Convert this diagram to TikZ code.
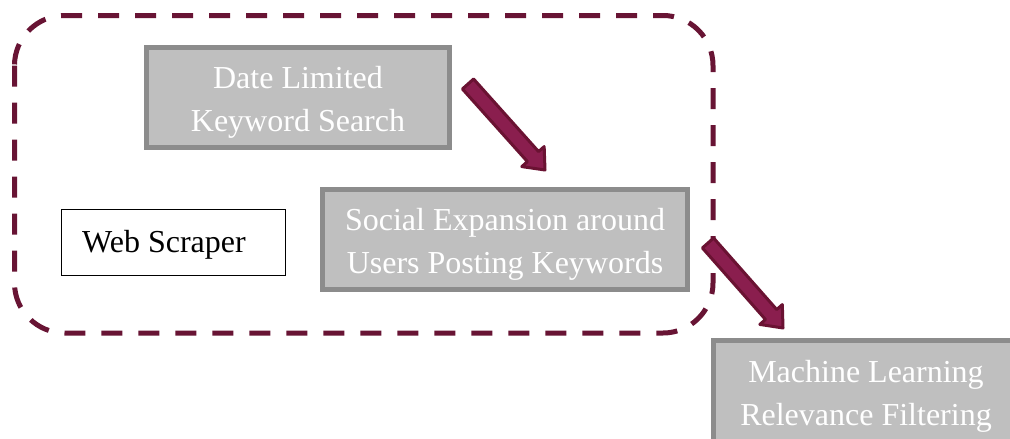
\documentclass[tikz,border=0pt]{standalone}
\usepackage{fontspec}
\setmainfont{Liberation Serif}
\usetikzlibrary{calc}
\definecolor{dashcol}{RGB}{104,20,52}
\definecolor{arrfill}{RGB}{138,30,78}
\definecolor{arrline}{RGB}{106,18,50}
\definecolor{boxfill}{RGB}{191,191,191}
\definecolor{boxline}{RGB}{140,140,140}
\newcommand{\burgarrow}[2]{%
  \coordinate (tmpB) at ($(#2)!18pt!(#1)$);
  \filldraw[arrowsty] ($(#1)!7.5pt!90:(#2)$) -- ($(tmpB)!7.5pt!-90:(#1)$) -- ($(tmpB)!15pt!-90:(#1)$) -- (#2) -- ($(tmpB)!15pt!90:(#1)$) -- ($(tmpB)!7.5pt!90:(#1)$) -- ($(#1)!7.5pt!-90:(#2)$) -- cycle;}
\begin{document}
\begin{tikzpicture}[x=1pt,y=-1pt,
  graybox/.style={draw=boxline, fill=boxfill, line width=5pt, inner sep=0pt},
  graytext/.style={text=white, align=center, inner sep=0pt, yshift=-4.5pt,
    font=\fontsize{32}{43}\selectfont},
  plainbox/.style={draw=black, line width=1pt, fill=white, inner sep=0pt},
  arrowsty/.style={fill=arrfill, draw=arrline, line width=3pt, line join=round},
  dashbox/.style={draw=dashcol, line width=5pt, rounded corners=50pt, dash pattern=on 21pt off 16pt}]
\clip (0,0) rectangle (1010,439);
\fill[white] (0,0) rectangle (1010,439);
% dashed group
\draw[dashbox] (14.5,15.5) rectangle (713,333);
% boxes
\node[graybox, minimum width=303pt, minimum height=100pt,
  label={[graytext, name=dlst]center:Date Limited\\Keyword Search}] (dls) at (298,97.5) {};
\node[graybox, minimum width=365pt, minimum height=100pt,
  label={[graytext, name=seat]center:Social Expansion around\\Users Posting Keywords}] (sea) at (505,239.5) {};
\node[graybox, minimum width=305pt, minimum height=103pt,
  label={[graytext, name=mlrt]center:Machine Learning\\Relevance Filtering}] (mlr) at (866,392) {};
\node[plainbox, minimum width=224pt, minimum height=66pt] (ws) at (173,242) {};
\node[anchor=west, inner sep=0pt, font=\fontsize{32}{43}\selectfont] (wst) at (82,244.5) {Web Scraper};
% arrows
\coordinate (a1s) at (468,84);
\coordinate (a1t) at (545,170);
\coordinate (a2s) at (708,243);
\coordinate (a2t) at (783,328);
\burgarrow{a1s}{a1t}
\burgarrow{a2s}{a2t}
\end{tikzpicture}
\end{document}
